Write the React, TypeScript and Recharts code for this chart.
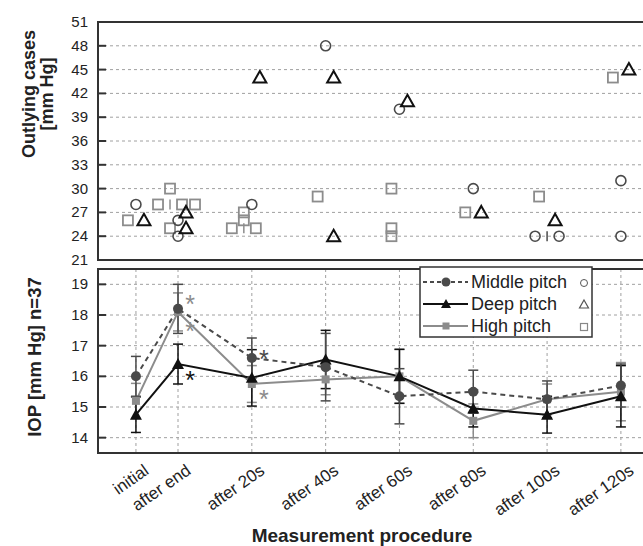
import React from 'react';
import {
  ScatterChart,
  Scatter,
  ComposedChart,
  Line,
  ErrorBar,
  XAxis,
  YAxis,
  CartesianGrid,
  ReferenceArea,
  ReferenceDot,
} from 'recharts';

const categories = ['initial', 'after end', 'after 20s', 'after 40s', 'after 60s', 'after 80s', 'after 100s', 'after 120s'];
const catPos = [0.43, 1, 2, 3, 4, 5, 6, 7];

// outlying cases per category
const middleOut = [[28], [26, 24], [28], [48], [40], [30], [24, 24], [31, 24]];
const deepOut = [[26], [27, 25], [44], [44, 24], [41], [27], [26], [45]];
const highOut = [[26], [30, 28, 28, 28, 25], [27, 26, 25, 25], [29], [30, 25, 24], [27], [29], [44]];

// mean and SD of IOP
const middleMean = [16.0, 18.2, 16.6, 16.3, 15.35, 15.5, 15.25, 15.7];
const middleSd = [0.65, 0.8, 0.65, 1.1, 0.9, 0.7, 0.6, 0.7];
const deepMean = [14.75, 16.4, 15.95, 16.55, 16.0, 14.95, 14.75, 15.35];
const deepSd = [0.58, 0.65, 0.92, 0.95, 0.88, 0.6, 0.6, 1.0];
const highMean = [15.2, 18.1, 15.75, 15.9, 16.0, 14.55, 15.25, 15.5];
const highSd = [0.57, 0.62, 0.6, 0.5, 0.88, 0.55, 0.5, 0.95];

const outTicks = [21, 24, 27, 30, 33, 36, 39, 42, 45, 48, 51];
const iopTicks = [14, 15, 16, 17, 18, 19];

// significance marks (*)
const sigCat = [1, 1, 1, 2, 2];
const sigVal = [18.5, 17.6, 16.0, 16.7, 15.4];
const sigOf = ['high', 'high', 'deep', 'middle', 'high'];

const W = 660;
const X_MIN = -0.084;
const X_MAX = 7.34;
const FRAME = '#333';
const GRID = '#a0a0a0';
const TXT = '#222';
const COL: Record<string, string> = { middle: '#4a4a4a', deep: '#111111', high: '#8c8c8c' };
const BASE_DX: Record<string, number> = { high: -8, middle: 0, deep: 8 };
const DUP_DX = [-12, 12, 25];

// spread equal values sideways, put a tie mark at the base position
function dodge(lists: number[][], key: string) {
  const pts: any[] = [];
  const ties: any[] = [];
  lists.forEach((vals, i) => {
    const counts: Record<number, number> = {};
    vals.forEach((v) => (counts[v] = (counts[v] || 0) + 1));
    const seen: Record<number, number> = {};
    vals.forEach((v) => {
      const k = (seen[v] = (seen[v] ?? -1) + 1);
      const n = counts[v];
      pts.push({ x: catPos[i], y: v, dx: BASE_DX[key] + (n > 1 ? DUP_DX[k] : 0) });
      if (n > 1 && k === 0) ties.push({ x: catPos[i], y: v, dx: BASE_DX[key], color: COL[key] });
    });
  });
  return { pts, ties };
}

const midPts = dodge(middleOut, 'middle');
const deepPts = dodge(deepOut, 'deep');
const highPts = dodge(highOut, 'high');
const tiePts = [...midPts.ties, ...deepPts.ties, ...highPts.ties];

const iopRows = catPos.map((x, i) => ({
  x,
  middle: middleMean[i],
  middleSd: middleSd[i],
  deep: deepMean[i],
  deepSd: deepSd[i],
  high: highMean[i],
  highSd: highSd[i],
}));

const InTick = (props: any) => {
  const { x, y, payload } = props;
  const axisX = x + 10;
  return (
    <g>
      <line x1={axisX} x2={axisX + 8} y1={y} y2={y} stroke={FRAME} strokeWidth={2} />
      <text x={x} y={y} dy={5} textAnchor="end" fontSize={15} fill={TXT}>
        {payload.value}
      </text>
    </g>
  );
};

const CatTick = (props: any) => {
  const { x, y, payload } = props;
  const i = catPos.indexOf(payload.value);
  const ax = x + 14;
  const ay = y + 12;
  return (
    <text x={ax} y={ay} transform={`rotate(-35, ${ax}, ${ay})`} textAnchor="end" fontSize={17} fill={TXT}>
      {categories[i]}
    </text>
  );
};

const TopTitle = (props: any) => {
  const vb = props.viewBox || { x: 0, y: 22 };
  return (
    <g fontWeight="bold" fontSize={18} fill={TXT}>
      <text x={0} y={0} textAnchor="middle" transform={`translate(${vb.x + 35}, ${vb.y + 72}) rotate(-90)`}>
        Outlying cases
      </text>
      <text x={0} y={0} textAnchor="middle" transform={`translate(${vb.x + 53}, ${vb.y + 72}) rotate(-90)`}>
        [mm Hg]
      </text>
    </g>
  );
};

const BottomTitle = (props: any) => {
  const vb = props.viewBox || { x: 0, y: 7, height: 184 };
  return (
    <text
      x={0}
      y={0}
      textAnchor="middle"
      fontWeight="bold"
      fontSize={18.5}
      fill={TXT}
      transform={`translate(${vb.x + 41}, ${vb.y + 88}) rotate(-90)`}
    >
      IOP [mm Hg] n=37
    </text>
  );
};

const XTitle = (props: any) => {
  const vb = props.viewBox || { x: 98, y: 191 };
  return (
    <text x={vb.x + 264} y={vb.y + 89} textAnchor="middle" fontWeight="bold" fontSize={19} fill={TXT}>
      Measurement procedure
    </text>
  );
};

const OpenCircle = (p: any) => (
  <circle cx={p.cx + p.payload.dx} cy={p.cy} r={5} fill="none" stroke={COL.middle} strokeWidth={1.6} />
);
const OpenTri = (p: any) => {
  const cx = p.cx + p.payload.dx;
  const cy = p.cy;
  return (
    <path d={`M${cx},${cy - 6.5}L${cx + 6.5},${cy + 5}L${cx - 6.5},${cy + 5}Z`} fill="none" stroke={COL.deep} strokeWidth={2} />
  );
};
const OpenSq = (p: any) => {
  const cx = p.cx + p.payload.dx;
  return <rect x={cx - 5} y={p.cy - 5} width={10} height={10} fill="none" stroke={COL.high} strokeWidth={1.8} />;
};
const TieMark = (p: any) => {
  const cx = p.cx + p.payload.dx;
  return <line x1={cx} x2={cx} y1={p.cy - 5} y2={p.cy + 5} stroke={p.payload.color} strokeWidth={1.5} />;
};

const dotCircle = (p: any) => <circle key={`c${p.index}`} cx={p.cx} cy={p.cy} r={5} fill={COL.middle} />;
const dotTri = (p: any) => (
  <path
    key={`t${p.index}`}
    d={`M${p.cx},${p.cy - 6}L${p.cx + 6},${p.cy + 5}L${p.cx - 6},${p.cy + 5}Z`}
    fill={COL.deep}
  />
);
const dotSq = (p: any) => <rect key={`s${p.index}`} x={p.cx - 4} y={p.cy - 4} width={8} height={8} fill={COL.high} />;

const Asterisk = (color: string) => (p: any) => (
  <text x={p.cx + 12} y={p.cy + 13} textAnchor="middle" fontSize={25} fill={color}>
    *
  </text>
);

const legendRows = [
  { key: 'middle', label: 'Middle pitch', dash: '4 3' },
  { key: 'deep', label: 'Deep pitch', dash: undefined },
  { key: 'high', label: 'High pitch', dash: undefined },
];

const LegendBox = () => {
  const rowY = [16, 38, 60];
  return (
    <svg width={174} height={72} style={{ position: 'absolute', left: 419, top: 266 }}>
      <rect x={1} y={1} width={172} height={70} fill="#fff" stroke={FRAME} strokeWidth={1.5} />
      {legendRows.map((r, i) => {
        const cy = rowY[i];
        const c = COL[r.key];
        return (
          <g key={r.key}>
            <line x1={4} x2={49} y1={cy} y2={cy} stroke={c} strokeWidth={2} strokeDasharray={r.dash} />
            {r.key === 'middle' && <circle cx={27} cy={cy} r={4.5} fill={c} />}
            {r.key === 'deep' && <path d={`M27,${cy - 5}L32,${cy + 4}L22,${cy + 4}Z`} fill={c} />}
            {r.key === 'high' && <rect x={23.5} y={cy - 3.5} width={7} height={7} fill={c} />}
            <text x={52} y={cy + 6} fontSize={18} fill={TXT}>
              {r.label}
            </text>
            {r.key === 'middle' && <circle cx={165} cy={cy + 1} r={3.5} fill="none" stroke="#555" strokeWidth={1} />}
            {r.key === 'deep' && <path d={`M165,${cy - 4}L169.5,${cy + 4}L160.5,${cy + 4}Z`} fill="none" stroke="#555" strokeWidth={1.2} />}
            {r.key === 'high' && <rect x={161.5} y={cy - 2.5} width={7} height={7} fill="none" stroke="#888" strokeWidth={1.2} />}
          </g>
        );
      })}
    </svg>
  );
};

export default function App() {
  return (
    <div
      style={{
        position: 'absolute',
        left: 0,
        top: 0,
        width: 643,
        height: 546,
        overflow: 'hidden',
        background: '#fff',
        fontFamily: "'Liberation Sans', Arial, sans-serif",
      }}
    >
      <div style={{ position: 'absolute', left: 0, top: 0 }}>
        <ScatterChart width={W} height={274} margin={{ top: 22, right: 14, bottom: 14, left: 0 }}>
          <CartesianGrid stroke={GRID} strokeDasharray="3 3" />
          <XAxis
            type="number"
            dataKey="x"
            domain={[X_MIN, X_MAX]}
            ticks={catPos}
            interval={0}
            tick={false}
            tickLine={false}
            axisLine={false}
            height={0}
            allowDataOverflow
          />
          <YAxis
            type="number"
            dataKey="y"
            domain={[21, 51]}
            ticks={outTicks}
            interval={0}
            width={98}
            axisLine={false}
            tickLine={false}
            tickSize={0}
            tickMargin={10}
            tick={<InTick />}
            label={<TopTitle />}
            allowDataOverflow
          />
          <ReferenceArea x1={X_MIN} x2={X_MAX} y1={21} y2={51} fill="none" stroke={FRAME} strokeWidth={2} />
          <Scatter data={highPts.pts} shape={OpenSq} isAnimationActive={false} />
          <Scatter data={midPts.pts} shape={OpenCircle} isAnimationActive={false} />
          <Scatter data={deepPts.pts} shape={OpenTri} isAnimationActive={false} />
          <Scatter data={tiePts} shape={TieMark} isAnimationActive={false} />
        </ScatterChart>
      </div>
      <div style={{ position: 'absolute', left: 0, top: 262 }}>
        <ComposedChart width={W} height={284} data={iopRows} margin={{ top: 7, right: 14, bottom: 0, left: 0 }}>
          <CartesianGrid stroke={GRID} strokeDasharray="3 3" />
          <XAxis
            type="number"
            dataKey="x"
            domain={[X_MIN, X_MAX]}
            ticks={catPos}
            interval={0}
            height={93}
            axisLine={false}
            tickLine={false}
            tick={<CatTick />}
            label={<XTitle />}
            allowDataOverflow
          />
          <YAxis
            type="number"
            domain={[13.5, 19.5]}
            ticks={iopTicks}
            interval={0}
            width={98}
            axisLine={false}
            tickLine={false}
            tickSize={0}
            tickMargin={10}
            tick={<InTick />}
            label={<BottomTitle />}
            allowDataOverflow
          />
          <ReferenceArea x1={X_MIN} x2={X_MAX} y1={13.5} y2={19.5} fill="none" stroke={FRAME} strokeWidth={2} />
          <Line
            dataKey="high"
            stroke={COL.high}
            strokeWidth={2}
            dot={dotSq}
            activeDot={false}
            isAnimationActive={false}
          >
            <ErrorBar dataKey="highSd" width={5} stroke={COL.high} strokeWidth={1.5} direction="y" />
          </Line>
          <Line
            dataKey="deep"
            stroke={COL.deep}
            strokeWidth={2}
            dot={dotTri}
            activeDot={false}
            isAnimationActive={false}
          >
            <ErrorBar dataKey="deepSd" width={5} stroke={COL.deep} strokeWidth={1.5} direction="y" />
          </Line>
          <Line
            dataKey="middle"
            stroke={COL.middle}
            strokeWidth={2}
            strokeDasharray="5 4"
            dot={dotCircle}
            activeDot={false}
            isAnimationActive={false}
          >
            <ErrorBar dataKey="middleSd" width={5} stroke={COL.middle} strokeWidth={1.5} direction="y" />
          </Line>
          {sigCat.map((c, i) => (
            <ReferenceDot
              key={i}
              x={catPos[c]}
              y={sigVal[i]}
              r={0}
              ifOverflow="visible"
              shape={Asterisk(COL[sigOf[i]])}
            />
          ))}
        </ComposedChart>
      </div>
      <LegendBox />
    </div>
  );
}
